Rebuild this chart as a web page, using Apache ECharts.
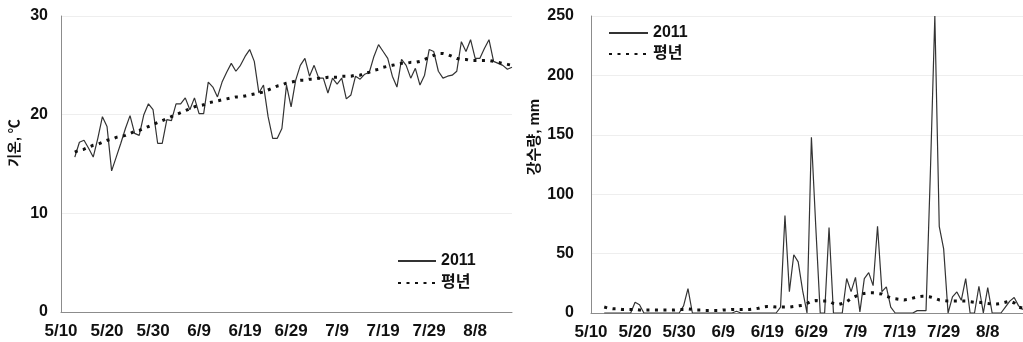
<!DOCTYPE html>
<html>
<head>
<meta charset="utf-8">
<script src="https://cdn.jsdelivr.net/npm/echarts@6.0.0/dist/echarts.min.js"></script>
<style>
html,body{margin:0;padding:0;background:#ffffff;}
#chart{width:1023px;height:342px;}
</style>
</head>
<body>
<div id="chart"></div>
<script>
// ---- categories: daily dates 5/10 .. 8/16 ----
const monthLengths = {5: 31, 6: 30, 7: 31, 8: 31};
const categories = [];
(function () {
  let m = 5, d = 10;
  for (let i = 0; i < 99; i++) {
    categories.push(m + '/' + d);
    d++;
    if (d > monthLengths[m]) { m++; d = 1; }
  }
})();
const labelEvery = 10;

const seriesNames = ['2011', '평년'];

// ---- Temperature (°C), data begin 5/13 ----
const temp2011 = [null, null, null,
  15.7, 17.2, 17.4, 16.6, 15.7, 17.6, 19.8, 18.8, 14.3, 15.7,
  17.1, 18.6, 19.9, 18.1, 17.9, 20.0, 21.1, 20.5, 17.1, 17.1,
  19.5, 19.4, 21.1, 21.1, 21.7, 20.5, 21.7, 20.1, 20.1, 23.3,
  22.8, 21.8, 23.3, 24.3, 25.2, 24.4, 25.0, 25.9, 26.6, 25.4,
  22.2, 23.0, 19.8, 17.6, 17.6, 18.6, 23.0, 20.8, 23.5, 25.0,
  25.7, 23.9, 25.0, 23.7, 23.7, 22.2, 23.7, 23.1, 23.7, 21.6,
  22.0, 23.9, 23.6, 24.1, 24.3, 25.9, 27.1, 26.4, 25.7, 23.9,
  22.8, 25.6, 25.0, 23.7, 24.7, 23.0, 24.0, 26.6, 26.4, 24.4,
  23.7, 23.9, 24.0, 24.4, 27.4, 26.4, 27.6, 25.7, 25.7, 26.7,
  27.6, 25.4, 25.2, 25.0, 24.6, 24.8];

const tempNormal = [null, null, null,
  16.2, 16.4, 16.5, 16.7, 16.9, 17.0, 17.2, 17.4, 17.5, 17.7,
  17.8, 17.9, 18.1, 18.3, 18.4, 18.6, 18.8, 19.0, 19.2, 19.4,
  19.6, 19.8, 20.0, 20.2, 20.4, 20.6, 20.8, 20.9, 21.0, 21.2,
  21.3, 21.4, 21.5, 21.6, 21.7, 21.8, 21.8, 21.9, 22.0, 22.1,
  22.2, 22.3, 22.5, 22.7, 22.9, 23.0, 23.2, 23.3, 23.4, 23.5,
  23.5, 23.6, 23.6, 23.7, 23.7, 23.8, 23.8, 23.8, 23.9, 23.9,
  23.9, 24.0, 24.0, 24.2, 24.3, 24.5, 24.6, 24.8, 24.9, 25.0,
  25.1, 25.2, 25.2, 25.3, 25.3, 25.4, 25.6, 25.8, 26.0, 26.2,
  26.2, 26.1, 25.9, 25.7, 25.6, 25.6, 25.5, 25.5, 25.5, 25.5,
  25.5, 25.4, 25.3, 25.2, 25.1, 25.0];

// ---- Precipitation (mm), data begin 5/13 ----
const rain2011 = [null, null, null,
  0, 0, 0, 0, 0, 0, 0, 9, 7, 0,
  0, 0, 0, 0, 0, 0, 0, 0, 6, 20.5,
  0, 0, 0, 0, 0, 0, 0, 0, 0, 0,
  1.5, 0, 0, 0, 0, 0, 0, 0, 0, 0,
  5, 82, 18, 49, 43, 19, 0, 148, 72, 0,
  0, 72, 0, 0, 0, 29, 18, 30, 1, 29,
  34, 23, 73, 18, 22, 5, 0, 0, 0, 0,
  0, 2, 2, 2, 120, 250, 73, 54, 0, 13.5,
  17.7, 10.7, 29, 0, 0, 22.5, 0, 21.4, 0, 0,
  0, 5, 10, 13, 6, 3];

const rainNormal = [null, null, null,
  5, 4, 3.5, 3.5, 3, 3, 3, 3, 2.5, 2.5,
  2.5, 2.5, 2.5, 2.5, 2.5, 2.5, 2.5, 3, 3, 3.5,
  3, 2.5, 2.5, 2, 2, 2, 2, 2.5, 2.5, 3,
  3, 3, 3, 3, 3.5, 4, 5, 5.5, 5.5, 5,
  5, 5, 5, 5.5, 6, 6.5, 8, 10, 10.5, 10,
  10, 10, 8, 7, 8, 9.5, 12, 14, 15.5, 16.5,
  17, 17, 16.5, 16, 14, 13, 12, 11.5, 11, 11.5,
  12.5, 13.5, 14, 14, 13.5, 12.5, 11, 10.5, 10, 10,
  10, 10, 10, 9.5, 9, 9, 8.5, 8, 7.5, 7.5,
  8, 9, 10, 8.5, 5, 4];

const tempAxis = {min: 0, max: 30, step: 10};
const rainAxis = {min: 0, max: 250, step: 50};

const FONT = "'Liberation Sans', Arial, 'Noto Sans CJK KR', sans-serif";
const KFONT = "'Liberation Sans', 'Noto Sans CJK KR', sans-serif";

const chart = echarts.init(document.getElementById('chart'), null, {renderer: 'canvas'});

function xAxisFor(gi) {
  return {
    type: 'category', gridIndex: gi, data: categories, boundaryGap: false,
    axisLine: {show: true, lineStyle: {color: '#8c8c8c', width: 1}},
    axisTick: {show: false},
    splitLine: {show: false},
    axisLabel: {interval: function (i) { return i % labelEvery === 0; },
      hideOverlap: false, color: '#111', fontSize: 17,
      fontWeight: 'bold', fontFamily: FONT, margin: 11}
  };
}
function yAxisFor(gi, ax, margin) {
  return {
    type: 'value', gridIndex: gi, min: ax.min, max: ax.max, interval: ax.step,
    axisLine: {show: true, lineStyle: {color: '#8c8c8c', width: 1}},
    axisTick: {show: false},
    splitLine: {show: true, lineStyle: {color: '#eeeeee', width: 1}},
    axisLabel: {color: '#111', fontSize: 16, fontWeight: 'bold', fontFamily: FONT, margin: margin}
  };
}
const solidStyle = {color: '#333333', width: 1.2, type: 'solid'};
const dotStyle = {color: '#111111', width: 3, type: [3, 5.5], cap: 'butt'};

function lineSeries(name, data, gi, style, z) {
  return {
    name: name, type: 'line', xAxisIndex: gi, yAxisIndex: gi, data: data,
    symbol: 'none', showSymbol: false, smooth: false, z: z,
    lineStyle: style, itemStyle: {color: style.color},
    emphasis: {disabled: true}, silent: true
  };
}

const legendText = {color: '#111', fontSize: 16, fontWeight: 'bold', fontFamily: KFONT, lineHeight: 16};
const legendSymbolHidden = {color: 'rgba(0,0,0,0)', borderWidth: 0, opacity: 0};

chart.setOption({
  backgroundColor: '#ffffff',
  animation: false,
  grid: [
    {left: 61, top: 16, width: 451, height: 296},
    {left: 591, top: 16, width: 434, height: 297}
  ],
  xAxis: [xAxisFor(0), xAxisFor(1)],
  yAxis: [yAxisFor(0, tempAxis, 13), yAxisFor(1, rainAxis, 17)],
  legend: [
    {data: seriesNames, orient: 'vertical', left: 397, top: 253, itemWidth: 38, itemHeight: 10,
      itemGap: 6, padding: 0, textStyle: legendText, selectedMode: false,
      itemStyle: legendSymbolHidden},
    {data: seriesNames, orient: 'vertical', left: 608, top: 25, itemWidth: 39, itemHeight: 10,
      itemGap: 5, padding: 0, textStyle: legendText, selectedMode: false,
      itemStyle: legendSymbolHidden}
  ],
  series: [
    lineSeries(seriesNames[0], temp2011, 0, solidStyle, 2),
    lineSeries(seriesNames[1], tempNormal, 0, dotStyle, 3),
    lineSeries(seriesNames[0], rain2011, 1, solidStyle, 2),
    lineSeries(seriesNames[1], rainNormal, 1, dotStyle, 3)
  ],
  graphic: [
    {type: 'text', x: 15, y: 143, rotation: Math.PI / 2,
      style: {text: '기온, ℃', fill: '#111', fontSize: 14, fontWeight: 'bold', fontFamily: KFONT,
        textAlign: 'center', textVerticalAlign: 'middle', align: 'center', verticalAlign: 'middle'}},
    {type: 'text', x: 535, y: 137, rotation: Math.PI / 2,
      style: {text: '강수량, mm', fill: '#111', fontSize: 15, fontWeight: 'bold', fontFamily: KFONT,
        textAlign: 'center', textVerticalAlign: 'middle', align: 'center', verticalAlign: 'middle'}}
  ]
});
</script>
</body>
</html>
